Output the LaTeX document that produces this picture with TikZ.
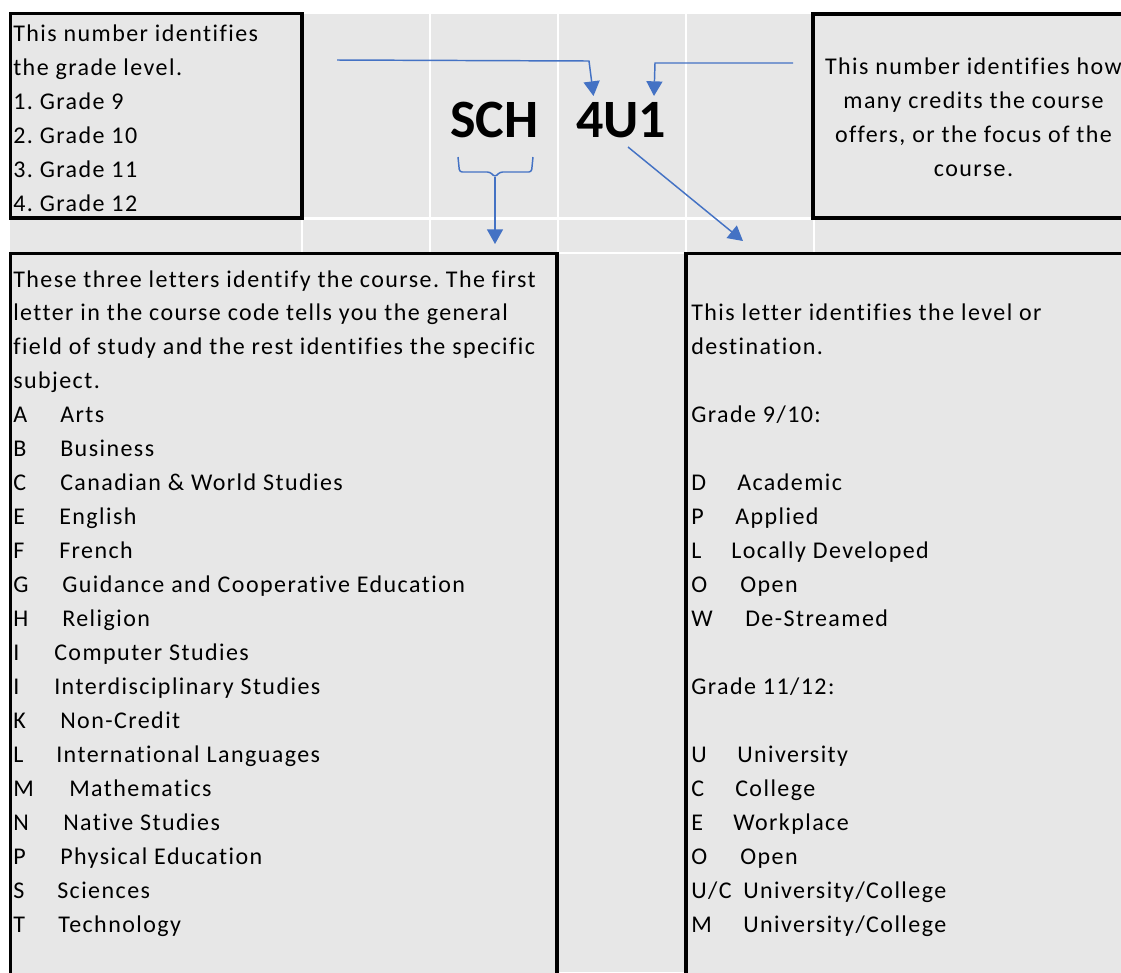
\documentclass[tikz,border=0pt]{standalone}
\usepackage{fontspec}
\usetikzlibrary{arrows.meta}
\setmainfont{Carlito}
\newfontfamily\bodyfam{Carlito}[LetterSpace=6.0,Ligatures=NoCommon]
\newcommand\bodyfont{\bodyfam\fontsize{18pt}{21pt}\selectfont\frenchspacing}
\newcommand\bigfont{\fontsize{40.5pt}{48pt}\selectfont\bfseries}
\definecolor{cellgray}{RGB}{231,231,231}
\definecolor{arrowblue}{HTML}{4472C4}
\begin{document}
\begin{tikzpicture}[x=0.75pt,y=-0.75pt,
  txt/.style={anchor=base west,inner sep=0pt,font=\bodyfont},
  ctr/.style={anchor=base,inner sep=0pt,font=\bodyfont},
  big/.style={anchor=base,inner sep=0pt,font=\bigfont},
  frame/.style={draw=black,line width=2.3pt,fill=cellgray},
  gridline/.style={draw=white,line width=1.6pt},
  arr/.style={draw=arrowblue,line width=1.1pt,-{Triangle[length=11pt,width=12pt]}},
  lin/.style={draw=arrowblue,line width=1.1pt}]
\useasboundingbox (0,0) rectangle (1121,972);
% background cells
\fill[cellgray] (10,14) rectangle (1121,972);
\draw[gridline] (10,218.5) -- (1121,218.5);
\draw[gridline] (10,253) -- (1121,253);
\foreach \gx in {302,430,558,686,814} \draw[gridline] (\gx,14) -- (\gx,253);
% boxes
\draw[frame] (10.5,13.5) rectangle (302,218);
\draw[frame] (813,14) rectangle (1140,218);
\draw[frame] (10.5,253.5) rectangle (557,990);
\draw[frame] (686,253.5) rectangle (1140,990);
% top-left text
\node[txt] (tl1) at (13,41) {This number identifies};
\node[txt] (tl2) at (13,75) {the grade level.};
\node[txt] (tl3) at (13,109) {1. Grade 9};
\node[txt] (tl4) at (13,143) {2. Grade 10};
\node[txt] (tl5) at (13,177) {3. Grade 11};
\node[txt] (tl6) at (13,211) {4. Grade 12};
% top-right text
\node[ctr] (tr1) at (973.5,74) {This number identifies how};
\node[ctr] (tr2) at (973.5,108) {many credits the course};
\node[ctr] (tr3) at (973.5,142) {offers, or the focus of the};
\node[ctr] (tr4) at (973.5,176) {course.};
% code
\node[big] (sch) at (494.5,137) {SCH};
\node[big] (fu) at (621,137) {4U1};
% bottom-left text
\node[txt] (bl1) at (13,287) {These three letters identify the course. The first};
\node[txt] (bl2) at (13,320.95) {letter in the course code tells you the general};
\node[txt] (bl3) at (13,354.9) {field of study and the rest identifies the specific};
\node[txt] (bl4) at (13,388.85) {subject.};
\node[txt] (la) at (13,422.8) {A}; \node[txt] (lat) at (60,422.8) {Arts};
\node[txt] (lb) at (13,456.75) {B}; \node[txt] (lbt) at (60,456.75) {Business};
\node[txt] (lc) at (13,490.7) {C}; \node[txt] (lct) at (60,490.7) {Canadian \& World Studies};
\node[txt] (le) at (13,524.65) {E}; \node[txt] (let) at (59,524.65) {English};
\node[txt] (lf) at (13,558.6) {F}; \node[txt] (lft) at (59,558.6) {French};
\node[txt] (lg) at (13,592.55) {G}; \node[txt] (lgt) at (62,592.55) {Guidance and Cooperative Education};
\node[txt] (lh) at (13,626.5) {H}; \node[txt] (lht) at (62,626.5) {Religion};
\node[txt] (li) at (13,660.45) {I}; \node[txt] (lit) at (54,660.45) {Computer Studies};
\node[txt] (lj) at (13,694.4) {I}; \node[txt] (ljt) at (54,694.4) {Interdisciplinary Studies};
\node[txt] (lk) at (13,728.35) {K}; \node[txt] (lkt) at (60,728.35) {Non-Credit};
\node[txt] (ll) at (13,762.3) {L}; \node[txt] (llt) at (56,762.3) {International Languages};
\node[txt] (lm) at (13,796.25) {M}; \node[txt] (lmt) at (69,796.25) {Mathematics};
\node[txt] (ln) at (13,830.2) {N}; \node[txt] (lnt) at (63,830.2) {Native Studies};
\node[txt] (lp) at (13,864.15) {P}; \node[txt] (lpt) at (60,864.15) {Physical Education};
\node[txt] (ls) at (13,898.1) {S}; \node[txt] (lst) at (57,898.1) {Sciences};
\node[txt] (lt) at (13,932.05) {T}; \node[txt] (ltt) at (58,932.05) {Technology};
% bottom-right text
\node[txt] (br1) at (691,320.95) {This letter identifies the level or};
\node[txt] (br2) at (691,354.9) {destination.};
\node[txt] (br3) at (691,422.8) {Grade 9/10:};
\node[txt] (rd) at (691,490.7) {D}; \node[txt] (rdt) at (737,490.7) {Academic};
\node[txt] (rp) at (691,524.65) {P}; \node[txt] (rpt) at (735,524.65) {Applied};
\node[txt] (rl) at (691,558.6) {L}; \node[txt] (rlt) at (731,558.6) {Locally Developed};
\node[txt] (ro) at (691,592.55) {O}; \node[txt] (rot) at (740,592.55) {Open};
\node[txt] (rw) at (691,626.5) {W}; \node[txt] (rwt) at (745,626.5) {De-Streamed};
\node[txt] (br4) at (691,694.4) {Grade 11/12:};
\node[txt] (ru) at (691,762.3) {U}; \node[txt] (rut) at (737,762.3) {University};
\node[txt] (rc) at (691,796.25) {C}; \node[txt] (rct) at (735,796.25) {College};
\node[txt] (re) at (691,830.2) {E}; \node[txt] (ret) at (733,830.2) {Workplace};
\node[txt] (ro2) at (691,864.15) {O}; \node[txt] (ro2t) at (740,864.15) {Open};
\node[txt] (ruc) at (691,898.1) {U/C}; \node[txt] (ruct) at (743,898.1) {University/College};
\node[txt] (rm) at (691,932.05) {M}; \node[txt] (rmt) at (743,932.05) {University/College};
% connectors
\coordinate (g1) at (337,60); \coordinate (g2) at (589,61); \coordinate (g3) at (593.5,96);
\draw[arr] (g1) -- (g2) -- (g3);
\coordinate (c1) at (793,63); \coordinate (c2) at (655,63); \coordinate (c3) at (654,96);
\draw[arr] (c1) -- (c2) -- (c3);
\coordinate (bl) at (458,157); \coordinate (br) at (533,157);
\coordinate (bm) at (495,177); \coordinate (bt) at (495,244);
\draw[lin,rounded corners=2pt] (bl) -- (459.5,172) -- (490,172) -- (bm) -- (500,172) -- (531.5,172) -- (br);
\draw[arr] (bm) -- (bt);
\coordinate (d0) at (628,147); \coordinate (d1) at (743,241);
\draw[arr] (d0) -- (d1);
\end{tikzpicture}
\end{document}
